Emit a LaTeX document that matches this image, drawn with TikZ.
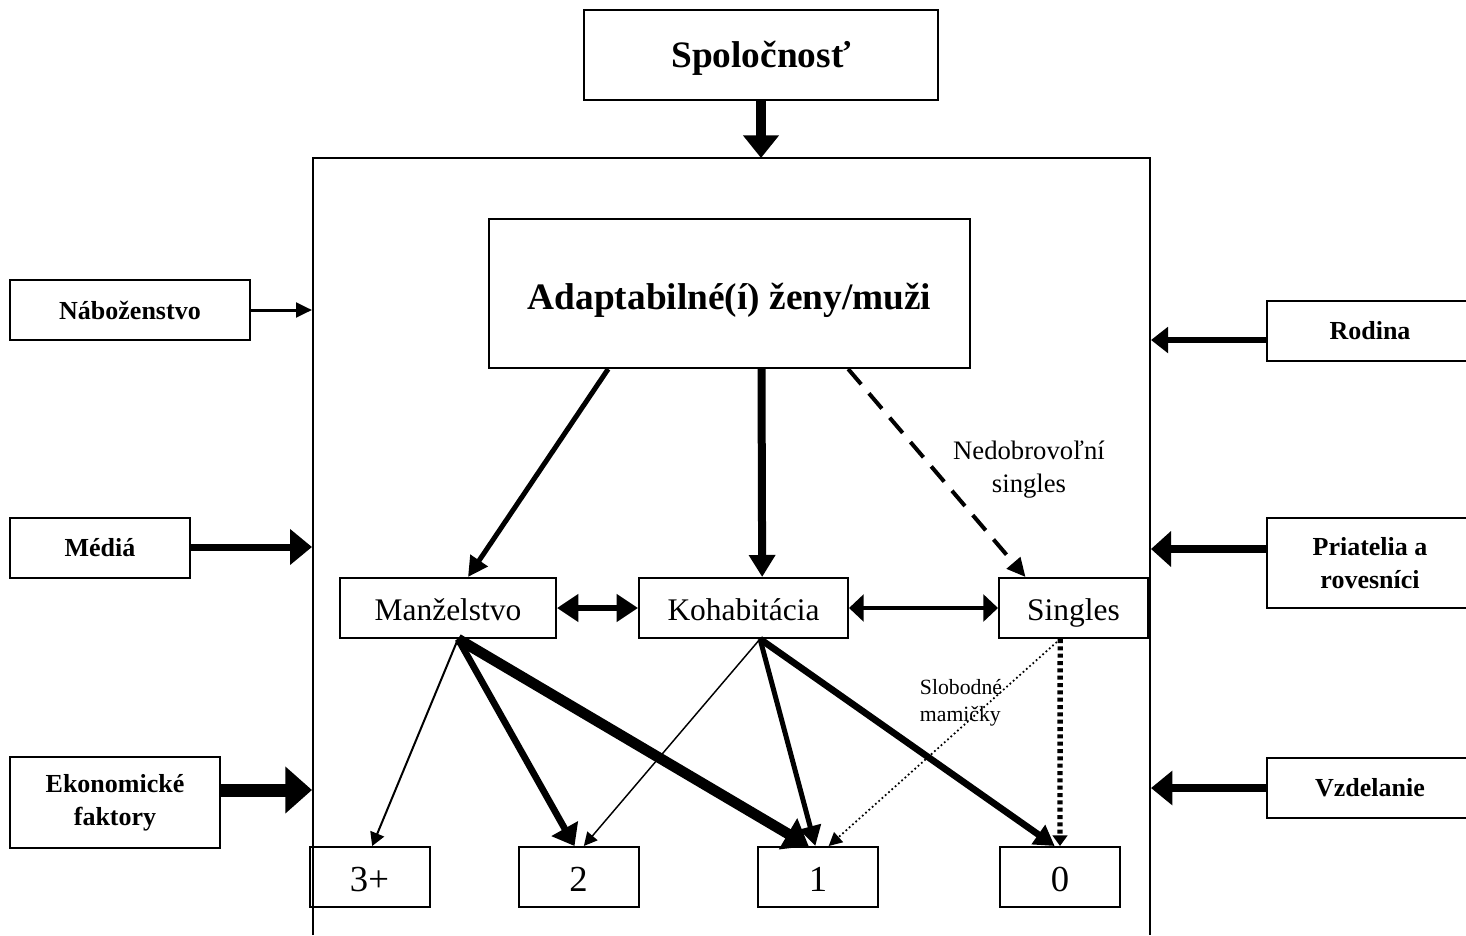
\documentclass[tikz,border=0pt]{standalone}
\usepackage{fontspec}
\setmainfont{Liberation Serif}
\usetikzlibrary{arrows.meta,positioning}

\tikzset{
  box/.style={draw, line width=1.5pt, inner sep=0pt, minimum height=45pt},
  bigbox/.style={box, text height=18pt, text depth=0pt, font=\fontsize{28}{33}\selectfont\bfseries},
  midbox/.style={box, text height=18.9pt, text depth=0pt, font=\fontsize{23.6}{28}\selectfont},
  sidebox/.style={box, align=center, font=\fontsize{19.5}{24.5}\selectfont\bfseries},
  numbox/.style={box, minimum width=90pt, text height=22pt, text depth=0pt, font=\fontsize{27.5}{30}\selectfont},
  note/.style={inner sep=0pt, align=center},
  arr/.style n args={3}{line width=#1, -{Triangle[length=#2, width=#3]}},
  darr/.style n args={3}{line width=#1, {Triangle[length=#2, width=#3]}-{Triangle[length=#2, width=#3]}}
}

\begin{document}
\begin{tikzpicture}[x=0.75pt, y=-0.75pt]
\useasboundingbox (0,0) rectangle (1466,935);

% ram
\draw[line width=1.1pt] (313,935) -- (313,158) -- (1150,158) -- (1150,935);

\node[bigbox, minimum width=265.5pt, minimum height=67.5pt] (soc) at (761,55) {Spoločnosť};
\node[bigbox, text height=23.5pt, minimum width=360.75pt, minimum height=111.75pt] (adapt) at (729.5,293.5) {Adaptabilné(í) ženy/muži};

\node[midbox, minimum width=162pt] (manz) at (448,608) {Manželstvo};
\node[midbox, minimum width=156.75pt] (koh) at (743.5,608) {Kohabitácia};
\node[midbox, minimum width=111.75pt] (sing) at (1073.5,608) {Singles};

\node[numbox] (n3) at (369.5,877) {3+};
\node[numbox] (n2) at (578.5,877) {2};
\node[numbox] (n1) at (818,877) {1};
\node[numbox] (n0) at (1060,877) {0};

% vplyvy zlava a sprava
\node[sidebox, minimum width=180pt] (nab) at (130,310) {Náboženstvo};
\node[sidebox, minimum width=135pt] (med) at (100,548) {Médiá};
\node[sidebox, minimum width=157.5pt, minimum height=68.25pt] (eko) at (115,802.5) {Ekonomické\\faktory};
\node[sidebox, minimum width=154.5pt] (rod) at (1370,331) {Rodina};
\node[sidebox, minimum width=154.5pt, minimum height=67.5pt] (pri) at (1370,563) {Priatelia a\\rovesníci};
\node[sidebox, minimum width=154.5pt] (vzd) at (1370,788) {Vzdelanie};

\coordinate (socin) at (761,158);
\coordinate (nabin) at (312,310);
\coordinate (medin) at (312,547);
\coordinate (ekoin) at (312,790);
\coordinate (rodin) at (1151,340);
\coordinate (priin) at (1151,549);
\coordinate (vzdin) at (1151,788);

\draw[arr={7.5pt}{17pt}{26pt}] (soc) -- (socin);
\draw[arr={2.25pt}{12pt}{11pt}] (nab.east |- nabin) -- (nabin);
\draw[arr={5.25pt}{16.5pt}{26pt}] (med.east |- medin) -- (medin);
\draw[arr={9.75pt}{20pt}{34pt}] (eko.east |- ekoin) -- (ekoin);
\draw[arr={4.5pt}{12.75pt}{19pt}] (rod.west |- rodin) -- (rodin);
\draw[arr={6.5pt}{15pt}{26pt}] (pri.west |- priin) -- (priin);
\draw[arr={6pt}{16pt}{25pt}] (vzd.west |- vzdin) -- (vzdin);

% formy partnerstva
\draw[arr={3.75pt}{15pt}{15pt}] ([xshift=-91pt]adapt.south) -- ([xshift=15pt]manz.north);
\draw[arr={6pt}{16.5pt}{19pt}] ([xshift=24pt]adapt.south) -- ([xshift=14pt]koh.north);
\draw[arr={3pt}{14pt}{13pt}, dash pattern=on 15pt off 9pt] ([xshift=89pt]adapt.south) -- ([xshift=-36pt]sing.north);
\node[note, font=\fontsize{20}{24.75}\selectfont] (nedob) at (1029,470) {Nedobrovoľní\\singles};

\draw[darr={5pt}{16pt}{20pt}] (manz) -- (koh);
\draw[darr={3.5pt}{11pt}{20pt}] (koh) -- (sing);

% pocet deti
\coordinate (mb) at ([xshift=7.5pt]manz.south);
\coordinate (kb) at ([xshift=12.4pt]koh.south);
\coordinate (sb) at ([xshift=-10pt]sing.south);

\draw[arr={1.5pt}{10pt}{11pt}] (mb) -- ([xshift=2pt]n3.north);
\draw[arr={5pt}{15pt}{22pt}] (mb) -- ([xshift=-3pt]n2.north);
\draw[arr={8pt}{18pt}{26pt}] (mb) -- ([xshift=-7pt]n1.north);
\draw[arr={1.1pt}{10pt}{10pt}] (kb) -- ([xshift=4pt]n2.north);
\draw[arr={3.75pt}{15pt}{16pt}] (kb) -- ([xshift=-2pt]n1.north);
\draw[arr={5pt}{15pt}{17pt}] (kb) -- ([xshift=-4pt]n0.north);
\draw[arr={1.3pt}{10pt}{10pt}, dotted] (sb) -- ([xshift=8pt]n1.north);
\draw[arr={4pt}{8pt}{11pt}, dash pattern=on 3pt off 2.5pt] (sb) -- (n0.north);
\node[note, align=left, font=\fontsize{16.3}{20}\selectfont] (slob) at (961,703) {Slobodné\\mamičky};
\end{tikzpicture}
\end{document}
